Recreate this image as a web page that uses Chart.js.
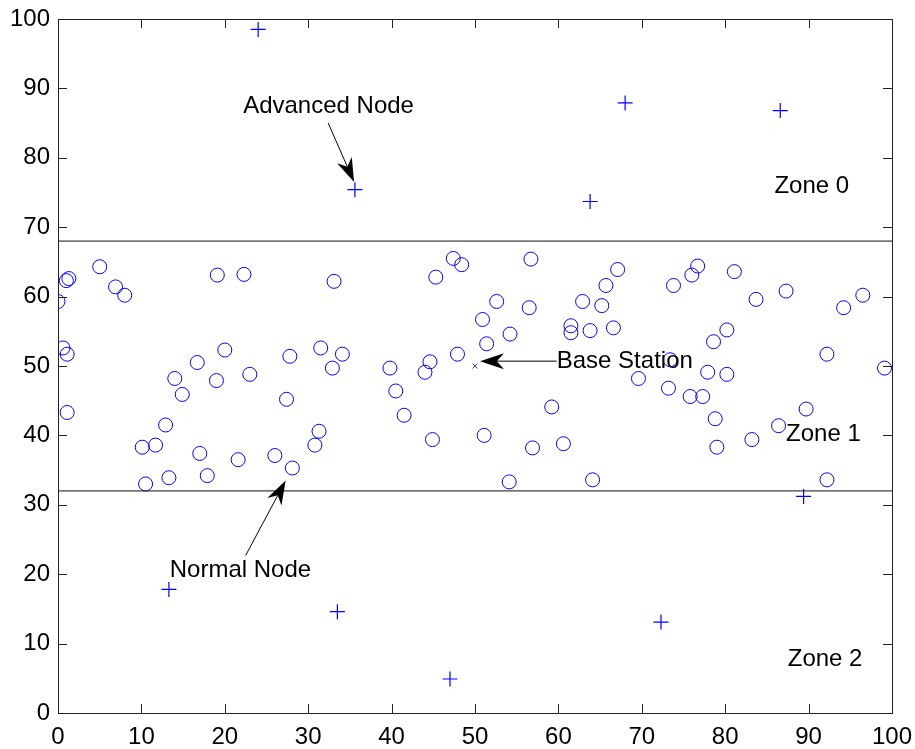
<!DOCTYPE html>
<html>
<head>
<meta charset="utf-8">
<script src="https://cdn.jsdelivr.net/npm/chart.js@4.4.1/dist/chart.umd.min.js"></script>
<style>
  html, body { margin: 0; padding: 0; background: #fff; }
  #wrap { width: 915px; height: 749px; }
</style>
</head>
<body>
<div id="wrap"><canvas id="nodeChart"></canvas></div>
<script>
// Normal nodes (circles), zone 1
const normalX = [5.0, 1.0, 1.3, 6.9, 8.0, 0.0, 19.1, 22.3, 0.6, 1.1, 1.1, 20.0, 16.7, 14.0, 19.0, 23.0, 14.9, 12.9, 10.1, 11.7, 17.0, 21.6, 26.0, 10.5, 13.3, 17.9,
  33.1, 45.3, 47.4, 48.4, 52.6, 50.9, 51.4, 27.8, 31.5, 34.1, 32.9, 39.8, 44.6, 44.0, 47.9, 40.5, 27.4, 41.5, 31.3, 30.8, 28.1, 44.9, 51.1,
  56.7, 67.1, 65.7, 76.7, 76.0, 73.8, 56.5, 62.9, 65.2, 61.5, 61.5, 63.8, 66.6, 54.2, 78.6, 69.6, 73.2, 75.8, 77.3, 77.9, 73.4, 59.2, 56.9, 60.6, 54.1, 64.1,
  81.1, 83.7, 87.3, 96.5, 94.2, 80.2, 92.2, 99.1, 80.2, 89.7, 78.8, 86.4, 83.2, 79.0, 92.2];
const normalY = [64.3, 62.3, 62.6, 61.4, 60.2, 59.3, 63.1, 63.2, 52.6, 51.7, 43.3, 52.3, 50.5, 48.2, 47.9, 48.8, 45.9, 41.5, 38.3, 38.6, 37.4, 36.5, 37.1, 33.0, 33.9, 34.2,
  62.2, 62.8, 65.5, 64.6, 59.3, 56.7, 53.2, 51.4, 52.6, 51.7, 49.7, 49.7, 50.6, 49.1, 51.7, 46.4, 45.2, 42.9, 40.6, 38.6, 35.3, 39.4, 40.0,
  65.4, 63.9, 61.6, 64.4, 63.1, 61.6, 58.4, 59.3, 58.7, 55.8, 54.8, 55.1, 55.5, 54.6, 53.5, 48.2, 46.8, 45.6, 45.6, 49.1, 50.9, 44.1, 38.2, 38.8, 33.3, 33.6,
  63.6, 59.6, 60.8, 60.2, 58.4, 55.2, 51.7, 49.7, 48.8, 43.8, 42.4, 41.4, 39.4, 38.3, 33.6];

// Advanced nodes (plus signs), zones 0 and 2
const advancedX = [24.0, 35.6, 68.0, 86.6, 63.8, 13.3, 33.5, 47.0, 72.3, 89.4];
const advancedY = [98.5, 75.4, 87.9, 86.8, 73.7, 17.8, 14.6, 4.9, 13.1, 31.2];

const baseStation = [50, 50];
const zoneBounds = [68, 32];
const tickValues = [0, 10, 20, 30, 40, 50, 60, 70, 80, 90, 100];

const labels = [
  { text: 'Advanced Node', x: 22.2, y: 87.4 },
  { text: 'Base Station', x: 59.8, y: 50.6 },
  { text: 'Normal Node', x: 13.4, y: 20.6 },
  { text: 'Zone 0', x: 85.9, y: 75.9 },
  { text: 'Zone 1', x: 87.3, y: 40.2 },
  { text: 'Zone 2', x: 87.5, y: 7.7 }
];
const arrows = [
  { from: [32.4, 85.0], to: [35.5, 76.5] },
  { from: [59.8, 50.7], to: [50.6, 50.7] },
  { from: [22.5, 22.7], to: [27.3, 33.5] }
];

const FONT_FAMILY = '"Liberation Sans", Arial, sans-serif';
const FONT_SIZE = 24;
const zip = (xs, ys) => xs.map((x, i) => ({ x, y: ys[i] }));

// frame with inward ticks on all four sides, like a MATLAB box
const boxPlugin = {
  id: 'box',
  afterDatasetsDraw(chart) {
    const { ctx, chartArea: a, scales: { x, y } } = chart;
    const L = 9;
    ctx.save();
    ctx.strokeStyle = '#222';
    ctx.lineWidth = 1;
    ctx.strokeRect(Math.round(a.left) + 0.5, Math.round(a.top) + 0.5,
      Math.round(a.right - a.left), Math.round(a.bottom - a.top));
    ctx.beginPath();
    x.ticks.forEach(t => {
      const px = Math.round(x.getPixelForValue(t.value)) + 0.5;
      ctx.moveTo(px, a.bottom); ctx.lineTo(px, a.bottom - L);
      ctx.moveTo(px, a.top); ctx.lineTo(px, a.top + L);
    });
    y.ticks.forEach(t => {
      const py = Math.round(y.getPixelForValue(t.value)) + 0.5;
      ctx.moveTo(a.left, py); ctx.lineTo(a.left + L, py);
      ctx.moveTo(a.right, py); ctx.lineTo(a.right - L, py);
    });
    ctx.stroke();
    ctx.restore();
  }
};

// text labels and arrows, placed in data coordinates
const notePlugin = {
  id: 'notes',
  afterDatasetsDraw(chart) {
    const { ctx, scales: { x, y } } = chart;
    ctx.save();
    ctx.fillStyle = '#000';
    ctx.font = FONT_SIZE + 'px ' + FONT_FAMILY;
    ctx.textBaseline = 'middle';
    ctx.textAlign = 'left';
    labels.forEach(l => ctx.fillText(l.text, x.getPixelForValue(l.x), y.getPixelForValue(l.y)));

    arrows.forEach(ar => {
      const x0 = x.getPixelForValue(ar.from[0]), y0 = y.getPixelForValue(ar.from[1]);
      const x1 = x.getPixelForValue(ar.to[0]), y1 = y.getPixelForValue(ar.to[1]);
      const ang = Math.atan2(y1 - y0, x1 - x0);
      const len = 24, half = 8;
      const cos = Math.cos(ang), sin = Math.sin(ang);
      const bx = x1 - len * cos, by = y1 - len * sin;
      ctx.strokeStyle = '#000';
      ctx.lineWidth = 1;
      ctx.beginPath();
      ctx.moveTo(x0, y0);
      ctx.lineTo(x1 - len * 0.7 * cos, y1 - len * 0.7 * sin);
      ctx.stroke();
      ctx.beginPath();
      ctx.moveTo(x1, y1);
      ctx.lineTo(bx - half * sin, by + half * cos);
      ctx.lineTo(x1 - len * 0.7 * cos, y1 - len * 0.7 * sin);
      ctx.lineTo(bx + half * sin, by - half * cos);
      ctx.closePath();
      ctx.fill();
    });
    ctx.restore();
  }
};

const lineSet = v => ({
  type: 'line',
  data: [{ x: 0, y: v }, { x: 100, y: v }],
  borderColor: '#111',
  borderWidth: 1,
  pointRadius: 0,
  showLine: true,
  fill: false
});

new Chart(document.getElementById('nodeChart'), {
  type: 'scatter',
  data: {
    datasets: [
      ...zoneBounds.map(lineSet),
      {
        label: 'Normal Node',
        data: zip(normalX, normalY),
        pointStyle: 'circle',
        pointRadius: 7,
        borderColor: '#0000ff',
        backgroundColor: 'rgba(0,0,0,0)',
        borderWidth: 1
      },
      {
        label: 'Advanced Node',
        data: zip(advancedX, advancedY),
        pointStyle: 'cross',
        pointRadius: 7.5,
        borderColor: '#0000ff',
        borderWidth: 1.2
      },
      {
        label: 'Base Station',
        data: [{ x: baseStation[0], y: baseStation[1] }],
        pointStyle: 'crossRot',
        pointRadius: 3.5,
        borderColor: '#3333ff',
        borderWidth: 1
      }
    ]
  },
  options: {
    responsive: true,
    maintainAspectRatio: false,
    animation: false,
    layout: { padding: { top: 19, right: 23, left: 0, bottom: 0 } },
    plugins: { legend: { display: false }, tooltip: { enabled: false } },
    scales: {
      x: {
        type: 'linear', min: 0, max: 100,
        afterBuildTicks: s => { s.ticks = tickValues.map(v => ({ value: v })); },
        afterFit: s => { s.height = 36; s.paddingLeft = 0; s.paddingRight = 0; },
        grid: { display: false, drawTicks: false },
        border: { display: false },
        ticks: { color: '#000', padding: 10, maxRotation: 0, font: { family: FONT_FAMILY, size: FONT_SIZE } }
      },
      y: {
        type: 'linear', min: 0, max: 100,
        afterBuildTicks: s => { s.ticks = tickValues.map(v => ({ value: v })); },
        afterFit: s => { s.width = 58; s.paddingTop = 0; s.paddingBottom = 0; },
        grid: { display: false, drawTicks: false },
        border: { display: false },
        ticks: { color: '#000', padding: 8, font: { family: FONT_FAMILY, size: FONT_SIZE } }
      }
    }
  },
  plugins: [boxPlugin, notePlugin]
});
</script>
</body>
</html>
